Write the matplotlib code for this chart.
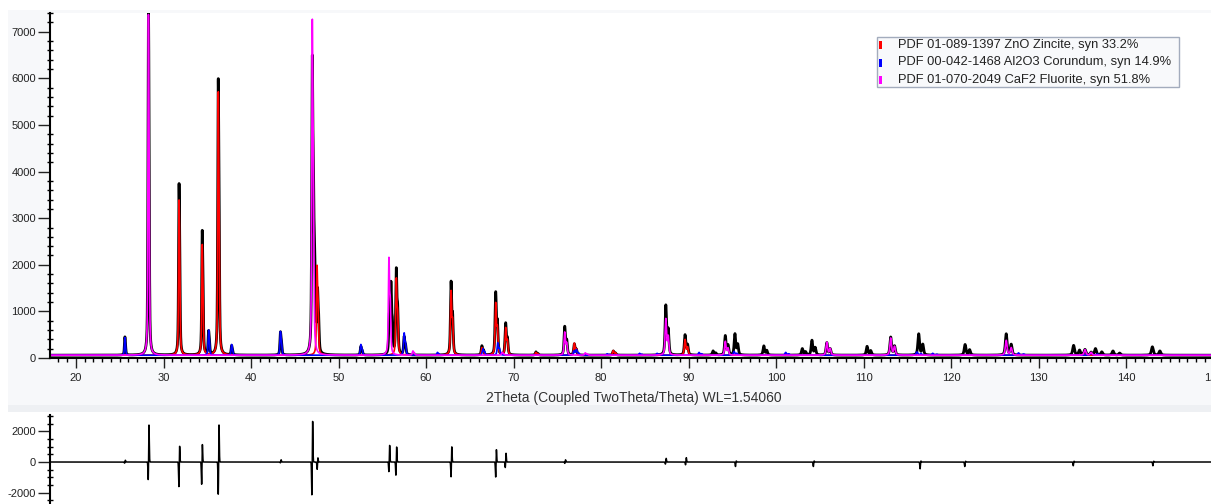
import numpy as np
import matplotlib
matplotlib.use('Agg')
import matplotlib.pyplot as plt
from matplotlib.patches import Rectangle
from matplotlib.ticker import MultipleLocator

plt.rcParams['font.family'] = ['Liberation Sans', 'DejaVu Sans']
plt.rcParams['axes.unicode_minus'] = False

# ---------------- data ----------------
# fitted phases: peak position (2theta) and peak top (counts)
zno_pos = [31.77, 34.42, 36.25, 47.54, 56.60, 62.86, 66.38, 67.96, 69.10, 72.56, 76.95, 81.40, 89.60]
zno_top = [3390, 2430, 5710, 1990, 1720, 1450, 220, 1190, 650, 120, 320, 160, 400]

al2o3_pos = [25.58, 35.15, 37.78, 43.36, 52.55, 57.50, 61.30, 66.50, 68.20, 76.90, 77.20,
             80.70, 84.40, 86.40, 91.20, 95.20, 101.1, 116.1, 117.9, 127.7, 136.0]
al2o3_top = [440, 600, 290, 570, 290, 540, 120, 200, 330, 150, 150,
             90, 100, 100, 120, 140, 120, 130, 100, 110, 110]

caf2_pos = [28.27, 47.00, 55.76, 58.50, 68.70, 75.85, 78.20, 87.40, 94.20, 105.8, 113.1, 126.3, 135.3]
caf2_top = [7370, 7270, 2160, 150, 120, 560, 110, 850, 360, 340, 430, 380, 180]

# measured pattern
obs_pos = [25.58, 28.27, 31.77, 34.42, 35.15, 36.25, 37.78, 43.36, 47.00, 47.25, 47.60,
           52.55, 55.80, 56.00, 56.60, 57.50, 62.86, 66.38, 67.96, 69.10, 72.56, 75.85,
           76.95, 81.40, 87.40, 89.60, 92.80, 94.20, 95.30, 98.60, 103.0, 104.1, 105.8,
           110.4, 113.1, 116.3, 121.6, 126.3, 134.0, 135.3, 136.5, 138.5, 143.0]
obs_top = [450, 7600, 3740, 2730, 560, 5990, 260, 560, 6400, 1840, 1360,
           250, 850, 1290, 1910, 450, 1650, 260, 1420, 750, 130, 680,
           300, 150, 1140, 500, 150, 480, 520, 260, 200, 380, 330,
           250, 450, 520, 290, 520, 270, 180, 200, 150, 240]
background = 60

# difference curve: spike position, upper and lower extreme
diff_pos = [25.6, 28.3, 31.8, 34.4, 36.3, 43.4, 47.0, 47.6, 55.8, 56.6, 62.9, 68.0, 69.1,
            75.9, 87.4, 89.7, 95.4, 104.3, 116.5, 121.6, 134.0, 143.1]
diff_up = [120, 2520, 1140, 1250, 2600, 150, 2840, 300, 1140, 1050, 1070, 880, 600,
           150, 250, 300, 80, 80, 80, 60, 60, 60]
diff_dn = [-80, -1300, -1700, -1550, -2300, -60, -2350, -500, -700, -940, -1050, -1050, -400,
           -100, -150, -200, -300, -300, -450, -300, -250, -250]

legend_labels = ['PDF 01-089-1397 ZnO Zincite, syn 33.2%',
                 'PDF 00-042-1468 Al2O3 Corundum, syn 14.9%',
                 'PDF 01-070-2049 CaF2 Fluorite, syn 51.8%']
legend_colors = ['#ff0000', '#0000ff', '#ff00ff']
xlabel = '2Theta (Coupled TwoTheta/Theta) WL=1.54060'


# peak shape (pseudo-Voigt + Ka2 doublet), only used to draw the peaks listed above
def profile(x, pos, top, base):
    y = np.full_like(x, float(base))
    for p, h in zip(pos, top):
        w = 0.11 + 0.0012 * (p - 20)
        p2 = p + np.degrees(2 * np.tan(np.radians(p / 2)) * 0.00251)
        s = np.zeros_like(x)
        for c, r in ((p, 1.0), (p2, 0.5)):
            u = (x - c) / w
            s += r * (0.45 * np.exp(-4 * np.log(2) * u ** 2) + 0.55 / (1 + 4 * u ** 2))
        y += (h - base) * s / s.max()
    return y


def spikes(x, pos, up, dn):
    y = np.zeros_like(x)
    for p, a, b in zip(pos, up, dn):
        y += a * np.exp(-((x - p - 0.04) / 0.05) ** 2)
        y += b * np.exp(-((x - p + 0.04) / 0.05) ** 2)
    return y


tt = np.arange(17.0, 151.5, 0.01)

W, H = 1211, 504
fig = plt.figure(figsize=(W / 100, H / 100), dpi=100)
fig.patch.set_facecolor('white')

# grey panel behind the main plot
fig.patches.append(Rectangle((8 / W, 1 - 405 / H), 1, 395 / H, transform=fig.transFigure,
                             facecolor='#f7f8fa', edgecolor='none', zorder=-10))
fig.patches.append(Rectangle((8 / W, 1 - 412 / H), 1, 7 / H, transform=fig.transFigure,
                             facecolor='#eef0f3', edgecolor='none', zorder=-10))

x0, x1 = 17.03, 151.3
ax_l, ax_r = 50 / W, 1225 / W

ax = fig.add_axes([ax_l, 1 - 358 / H, ax_r - ax_l, (358 - 12.7) / H])
ax.set_facecolor('white')
ax.plot(tt, profile(tt, obs_pos, obs_top, background), color='black', lw=2.0)
ax.plot(tt, profile(tt, zno_pos, zno_top, background), color=legend_colors[0], lw=1.2)
ax.plot(tt, profile(tt, al2o3_pos, al2o3_top, background), color=legend_colors[1], lw=1.2)
ax.plot(tt, profile(tt, caf2_pos, caf2_top, background), color=legend_colors[2], lw=1.2)
ax.set_xlim(x0, x1)
ax.set_ylim(0, 7410)
for s in ('top', 'right'):
    ax.spines[s].set_visible(False)
ax.spines['left'].set_linewidth(1.5)
ax.spines['bottom'].set_linewidth(1.5)
ax.xaxis.set_major_locator(MultipleLocator(10))
ax.xaxis.set_minor_locator(MultipleLocator(1))
ax.yaxis.set_major_locator(MultipleLocator(1000))
ax.yaxis.set_minor_locator(MultipleLocator(200))
ax.tick_params(axis='x', which='major', length=7, width=1, pad=4, labelsize=8, colors='#222222')
ax.tick_params(axis='x', which='minor', length=3, width=1)
ax.tick_params(axis='y', which='major', length=9, width=1, pad=1, labelsize=8, colors='#222222')
ax.tick_params(axis='y', which='minor', direction='inout', length=5, width=1)

fig.text(634 / W, 1 - 398 / H, xlabel, ha='center', va='center', fontsize=10, color='#333333')

# legend box
fig.patches.append(Rectangle((877 / W, 1 - 87 / H), 302 / W, 50 / H, transform=fig.transFigure,
                             facecolor='#f8f9fb', edgecolor='#a3acbd', lw=1, zorder=5))
for i, (lab, col) in enumerate(zip(legend_labels, legend_colors)):
    yc = 45 + i * 17.5
    fig.patches.append(Rectangle((879 / W, 1 - (yc + 4) / H), 3 / W, 8 / H, transform=fig.transFigure,
                                 facecolor=col, edgecolor='none', zorder=6))
    fig.text(898 / W, 1 - yc / H, lab, ha='left', va='center', fontsize=9.3, color='#222222', zorder=7)

# difference plot
ax2 = fig.add_axes([ax_l, 1 - 520 / H, ax_r - ax_l, (520 - 415) / H])
ax2.plot(tt, spikes(tt, diff_pos, diff_up, diff_dn), color='black', lw=1.1)
ax2.set_xlim(x0, x1)
ax2.set_ylim(-3800, 3080)
for s in ('top', 'right', 'bottom'):
    ax2.spines[s].set_visible(False)
ax2.spines['left'].set_linewidth(1.5)
ax2.set_xticks([])
ax2.yaxis.set_major_locator(MultipleLocator(2000))
ax2.yaxis.set_minor_locator(MultipleLocator(500))
ax2.tick_params(axis='y', which='major', length=9, width=1, pad=1, labelsize=8, colors='#222222')
ax2.tick_params(axis='y', which='minor', direction='inout', length=5, width=1)

fig.savefig('out.png', dpi=100, facecolor='white')
